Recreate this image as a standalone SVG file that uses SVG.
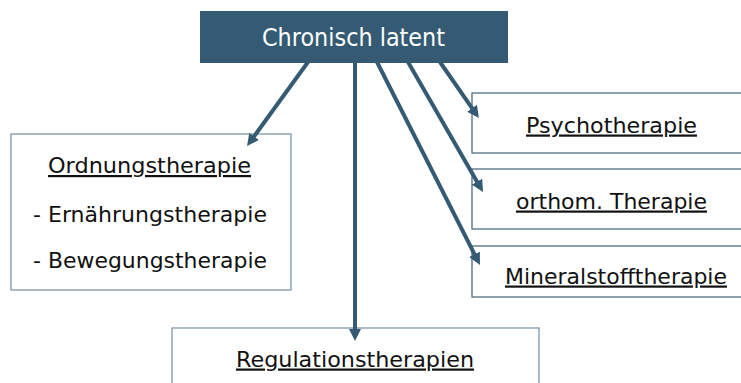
<svg xmlns="http://www.w3.org/2000/svg" width="741" height="383" viewBox="0 0 741 383">
<style>
.box{fill:#ffffff;stroke:#7f97a9;stroke-width:1.3}
.boxd{fill:#ffffff;stroke:#4f6e84;stroke-width:1.3}
.t{font-family:"DejaVu Sans","Liberation Sans",Arial,sans-serif;font-size:22px;fill:#111111}
.u{text-decoration:underline}
.c{stroke:#355b74;stroke-width:4;fill:none;marker-end:url(#ah)}
</style>
<defs>
<marker id="ah" viewBox="0 0 10 10" refX="2" refY="5" markerWidth="3" markerHeight="3" orient="auto" markerUnits="strokeWidth">
<path d="M0,0 L10,5 L0,10 Z" fill="#355b74"/>
</marker>
</defs>
<rect width="741" height="383" fill="#ffffff"/>
<g id="top">
<rect x="200" y="11" width="308" height="52" fill="#355b74"/>
<text x="353.5" y="46" text-anchor="middle" font-family="DejaVu Sans, Liberation Sans, Arial, sans-serif" font-size="25" fill="#ffffff" textLength="183" lengthAdjust="spacingAndGlyphs">Chronisch latent</text>
</g>
<g id="ordnung">
<rect class="box" x="11" y="134" width="280" height="156"/>
<text class="t u" x="149.5" y="173" text-anchor="middle" textLength="203" lengthAdjust="spacingAndGlyphs">Ordnungstherapie</text>
<text class="t" x="33" y="222" textLength="234" lengthAdjust="spacingAndGlyphs">- Ernährungstherapie</text>
<text class="t" x="33" y="268" textLength="234" lengthAdjust="spacingAndGlyphs">- Bewegungstherapie</text>
</g>
<g id="psycho">
<rect class="boxd" x="472" y="93" width="300" height="60"/>
<text class="t u" x="611.5" y="132.5" text-anchor="middle" textLength="171" lengthAdjust="spacingAndGlyphs">Psychotherapie</text>
</g>
<g id="orthom">
<rect class="boxd" x="472" y="169" width="300" height="60"/>
<text class="t u" x="611.5" y="208.5" text-anchor="middle" textLength="191" lengthAdjust="spacingAndGlyphs">orthom. Therapie</text>
</g>
<g id="mineral">
<rect class="boxd" x="472" y="246" width="300" height="51"/>
<text class="t u" x="616" y="283.5" text-anchor="middle" textLength="222" lengthAdjust="spacingAndGlyphs">Mineralstofftherapie</text>
</g>
<g id="regulation">
<rect class="box" x="172" y="328" width="367" height="70"/>
<text class="t u" x="355" y="366.5" text-anchor="middle" textLength="238" lengthAdjust="spacingAndGlyphs">Regulationstherapien</text>
</g>
<g id="connectors">
<line class="c" x1="308" y1="62" x2="252.7" y2="138.3"/>
<line class="c" x1="355" y1="62" x2="355" y2="331.4"/>
<line class="c" x1="440" y1="62" x2="473.4" y2="110.2"/>
<line class="c" x1="408" y1="62" x2="478.2" y2="183.7"/>
<line class="c" x1="377" y1="62" x2="475.6" y2="256.4"/>
</g>
</svg>
